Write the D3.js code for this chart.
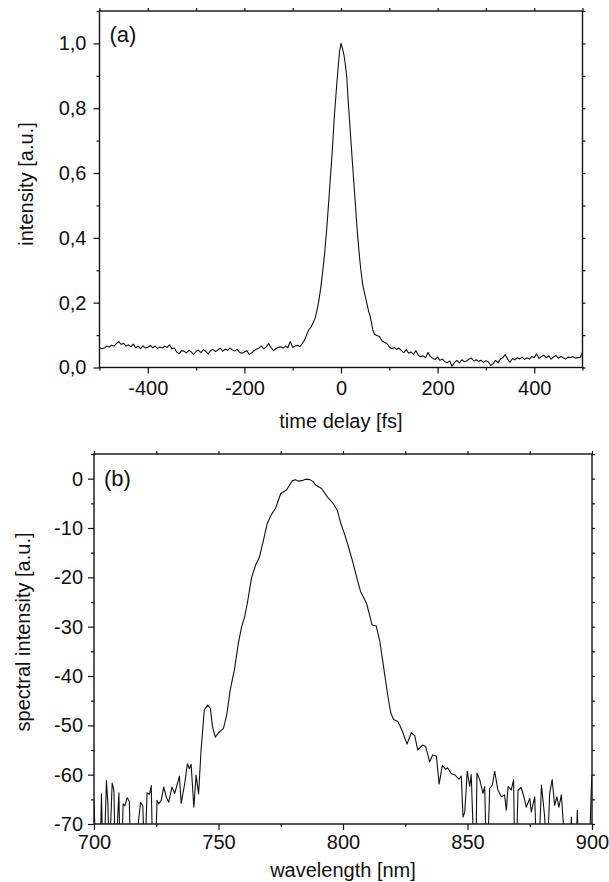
<!DOCTYPE html>
<html>
<head>
<meta charset="utf-8">
<script src="https://cdn.jsdelivr.net/npm/d3@7"></script>
<style>
  body { margin: 0; background: #fff; }
  svg text { font-family: "Liberation Sans", Arial, sans-serif; fill: #111; }
</style>
</head>
<body>
<svg id="fig" width="609" height="882"></svg>
<script>
// panel (a): autocorrelation trace
const delay = [
  -500,-495,-490,-485,-480,-475,-470,-465,-460,-455,-450,-445,-440,-435,-430,-425,-420,-415,-410,-405,
  -400,-395,-390,-385,-380,-375,-370,-365,-360,-355,-350,-345,-340,-335,-330,-325,-320,-315,-310,-305,
  -300,-295,-290,-285,-280,-275,-270,-265,-260,-255,-250,-245,-240,-235,-230,-225,-220,-215,-210,-205,
  -200,-195,-190,-185,-180,-175,-170,-165,-160,-155,-150,-145,-140,-135,-130,-125,-120,-115,-110,-105,
  -100,-95,-90,-85,-80,-75,
  -70,-66,-62,-58,-54,-50,-46,-42,-38,-34,-30,-26,-22,-18,-14,-10,-6,-3,0,3,6,9,12,15,18,21,24,27,30,
  33,36,39,42,45,48,51,54,57,60,63,66,69,72,76,
  80,85,90,95,100,105,110,115,120,125,130,135,140,145,150,155,160,165,170,175,180,185,190,195,
  200,205,210,215,220,225,230,235,240,245,250,255,260,265,270,275,280,285,290,295,
  300,305,310,315,320,325,330,335,340,345,350,355,360,365,370,375,380,385,390,395,
  400,405,410,415,420,425,430,435,440,445,450,455,460,465,470,475,480,485,490,495,500
];
const intensity = [
  .062,.058,.060,.066,.063,.069,.066,.074,.080,.071,.075,.066,.070,.064,.072,.061,.066,.058,.067,.060,
  .062,.068,.061,.066,.059,.063,.060,.066,.062,.070,.058,.060,.047,.043,.052,.050,.045,.053,.048,.040,
  .050,.053,.046,.055,.050,.042,.052,.056,.049,.054,.060,.050,.057,.053,.060,.054,.051,.056,.047,.044,
  .048,.052,.040,.045,.052,.056,.060,.066,.058,.063,.074,.062,.052,.058,.062,.064,.060,.066,.061,.080,
  .062,.066,.069,.064,.075,.086,
  .105,.118,.125,.137,.150,.175,.205,.245,.295,.350,.420,.500,.585,.670,.770,.850,.925,.975,1.0,.985,.965,.935,.895,.820,.755,.690,.625,.560,.500,
  .435,.380,.330,.290,.255,.235,.215,.195,.175,.160,.140,.115,.103,.100,.098,
  .095,.082,.078,.074,.064,.058,.062,.056,.060,.052,.046,.055,.044,.048,.040,.052,.038,.033,.036,.030,.046,.034,.028,.025,
  .032,.022,.026,.018,.015,.020,.004,.016,.022,.014,.024,.018,.020,.026,.029,.020,.024,.019,.022,.016,
  .021,.018,.006,.012,.022,.015,.026,.030,.040,.025,.016,.028,.024,.030,.026,.032,.025,.030,.026,.034,
  .030,.042,.028,.034,.038,.030,.036,.026,.033,.037,.029,.034,.030,.026,.032,.030,.034,.029,.031,.030,.046
];
const delayTicks = [-400, -200, 0, 200, 400];
const delayMinor = [-500, -300, -100, 100, 300, 500];
const intensityTicks = [0, 0.2, 0.4, 0.6, 0.8, 1.0];
const intensityMinor = [0.1, 0.3, 0.5, 0.7, 0.9, 1.1];

// panel (b): spectrum (values below -70 are off the plot)
const wavelength = [
  700,700.8,701.7,702.4,703,703.6,704,705,705.6,706.1,707.3,708,708.6,710,710.5,711.2,711.7,712.4,713.3,714.2,
  714.7,716,717.3,718.7,719.6,720.4,721.3,722.3,723,723.6,724.6,725.3,726,727,728,729,730,731.3,732.4,733.3,
  734.3,735,736.4,737.5,738.3,739,740.1,741,742,743,744.3,745.6,746.7,747.6,748.7,750,752,753.3,754.7,756.4,758,
  759.3,760.5,761.7,763.3,765,766.4,768,769.5,771,773,775,777.3,779.7,781,782,783.5,785,786.7,788,789,
  791.4,793.7,796,797.7,799.2,800.8,802.3,804,805.5,807,809.4,810.5,811.7,813.3,814.8,816.4,818,819.2,820.3,
  822,823,824,825.7,827.4,828.8,830,831.9,833.2,834.8,836,837.5,838.6,839.9,841.2,842,843.5,844.8,846.6,847.5,
  848.2,848.9,849.9,850.9,851.5,852.2,852.8,853.3,853.8,854.9,856.2,856.9,857.6,858,858.9,860,860.9,862.2,863.6,
  864.9,865.6,866.3,867.6,868.5,869,869.5,870.3,871.6,873,873.6,875,875.6,877,877.8,878.5,879.7,881,881.9,883,
  884,885,885.9,886.7,887.7,888.4,889,890,891,891.7,892.3,893.5,894.1,894.7,896,897.5,898.8,899.7,900
];
const spectrum = [
  -65.2,-78,-78,-78,-63.9,-78,-78,-61.2,-66,-78,-61.7,-63.2,-78,-63.7,-78,-75,-65.9,-66.3,-64.7,-65.4,
  -78,-78,-72,-65.6,-66.4,-78,-63.7,-64,-62.2,-78,-78,-65.2,-65.9,-65.2,-62.5,-64.5,-65.6,-62.5,-63.8,-62.2,
  -60.3,-65.8,-61.9,-57.8,-58.8,-57.9,-66.6,-60.1,-63.9,-55,-46.9,-45.9,-46.5,-50.3,-52.4,-51.5,-50.6,-47.9,-42.8,-38.7,-33.3,
  -30,-28,-24.9,-20,-17.4,-16,-12.6,-9.2,-7.5,-5.9,-3,-2.3,-0.4,-0.2,-0.5,-0.4,-0.1,-0.2,-0.6,-1.3,
  -2.0,-3.7,-5,-6.4,-9.2,-11.5,-14,-17,-20,-22.8,-25.2,-27.3,-29.7,-29.8,-33,-38.5,-44,-47.5,-48.8,
  -49.2,-50.2,-51.4,-53.8,-51.5,-52.1,-55,-54,-54.3,-57.4,-56,-56.2,-61.9,-58.1,-58.9,-58.6,-59.8,-60,-60.9,-60.3,
  -68.6,-67.6,-59.3,-62.4,-60,-70.5,-78,-78,-59.7,-61,-63.8,-62.4,-78,-78,-62.8,-62.1,-59.3,-63.1,-64.5,
  -64.1,-67.2,-62.4,-63.1,-61,-78,-78,-63.1,-62.6,-65.2,-66.6,-64.8,-67.6,-64.5,-78,-78,-62.1,-68.6,-78,-63.8,
  -61,-66.2,-64.5,-66.6,-64.1,-69.3,-72,-78,-78,-68.6,-78,-78,-67.2,-78,-78,-78,-78,-63,-60
];
const wavelengthTicks = [700, 750, 800, 850, 900];
const wavelengthMinor = [725, 775, 825, 875];
const spectrumTicks = [0, -10, -20, -30, -40, -50, -60, -70];
const spectrumMinor = [5, -5, -15, -25, -35, -45, -55, -65];

let svg = d3.select("#fig");

// plain hyphen for negative numbers, as in the original figure
const intFmt = d => String(d);

function drawPanel(opt){
    let g = svg.append('g');
    let x = d3.scaleLinear().domain(opt.xDomain).range(opt.xRange);
    let y = d3.scaleLinear().domain(opt.yDomain).range(opt.yRange);
    let top = opt.yRange[1], bottom = opt.yRange[0];
    let left = opt.xRange[0], right = opt.xRange[1];

    // clip for data line
    svg.append('clipPath').attr('id', opt.id)
        .append('rect')
        .attr('x', left).attr('y', top)
        .attr('width', right - left).attr('height', bottom - top);

    // major / minor ticks, labels only on bottom and left
    function ticks(axis, where, vals, size, labels, fmt){
        let a = axis(where === 'x' ? x : y).tickValues(vals).tickSize(size).tickPadding(opt.pad);
        a.tickFormat(labels ? fmt : '');
        return a;
    }
    let gb = g.append('g').attr('transform', `translate(0,${bottom})`);
    gb.call(ticks(d3.axisBottom, 'x', opt.xTicks, 6, true, opt.xFmt));
    gb.append('g').call(ticks(d3.axisBottom, 'x', opt.xMinor, 3, false));
    let gl = g.append('g').attr('transform', `translate(${left},0)`);
    gl.call(ticks(d3.axisLeft, 'y', opt.yTicks, 6, true, opt.yFmt));
    gl.append('g').call(ticks(d3.axisLeft, 'y', opt.yMinor, 3, false));
    let gt = g.append('g').attr('transform', `translate(0,${top})`);
    gt.call(ticks(d3.axisTop, 'x', opt.xTicks.concat(opt.xMinor), 3, false));
    let gr = g.append('g').attr('transform', `translate(${right},0)`);
    gr.call(ticks(d3.axisRight, 'y', opt.yTicks.concat(opt.yMinor), 3, false));

    g.selectAll('.domain').remove();
    g.selectAll('.tick line').attr('stroke', '#111').attr('stroke-width', 1.2);
    g.selectAll('.tick text')
        .style('font-size', opt.font + 'px')
        .attr('fill', '#111');

    // frame
    g.append('rect')
        .attr('x', left).attr('y', top)
        .attr('width', right - left).attr('height', bottom - top)
        .attr('fill', 'none').attr('stroke', '#111').attr('stroke-width', 1.4);

    // data
    let line = d3.line().x((d, i) => x(opt.xs[i])).y(d => y(d));
    g.append('path')
        .datum(opt.ys)
        .attr('clip-path', `url(#${opt.id})`)
        .attr('d', line)
        .attr('fill', 'none')
        .attr('stroke', '#111')
        .attr('stroke-width', 1.1)
        .attr('stroke-linejoin', 'round');

    // texts
    g.append('text')
        .attr('x', (left + right) / 2).attr('y', opt.xLabelY)
        .attr('text-anchor', 'middle')
        .style('font-size', '20px')
        .text(opt.xLabel);
    g.append('text')
        .attr('transform', `translate(${opt.yLabelX},${opt.yLabelCY}) rotate(-90)`)
        .attr('text-anchor', 'middle')
        .style('font-size', '20px')
        .text(opt.yLabel);
    g.append('text')
        .attr('x', left + 10).attr('y', opt.tagY)
        .style('font-size', '22px')
        .text(opt.tag);
}

drawPanel({
    id: 'clipA', xs: delay, ys: intensity,
    xDomain: [-500, 500], xRange: [99.5, 582.5],
    yDomain: [0, 1.1], yRange: [367.5, 11],
    xTicks: delayTicks, xMinor: delayMinor,
    yTicks: intensityTicks, yMinor: intensityMinor,
    xFmt: intFmt,
    yFmt: d => d3.format('.1f')(d).replace('.', ','),
    pad: 7, font: 20,
    xLabel: 'time delay [fs]', xLabelY: 428,
    yLabel: 'intensity [a.u.]', yLabelX: 33, yLabelCY: 184,
    tag: '(a)', tagY: 42
});

drawPanel({
    id: 'clipB', xs: wavelength, ys: spectrum,
    xDomain: [700, 900], xRange: [94, 592],
    yDomain: [-70, 5], yRange: [824, 454],
    xTicks: wavelengthTicks, xMinor: wavelengthMinor,
    yTicks: spectrumTicks, yMinor: spectrumMinor,
    xFmt: intFmt, yFmt: intFmt,
    pad: 5, font: 20,
    xLabel: 'wavelength [nm]', xLabelY: 877,
    yLabel: 'spectral intensity [a.u.]', yLabelX: 30, yLabelCY: 632,
    tag: '(b)', tagY: 486
});
</script>
</body>
</html>
